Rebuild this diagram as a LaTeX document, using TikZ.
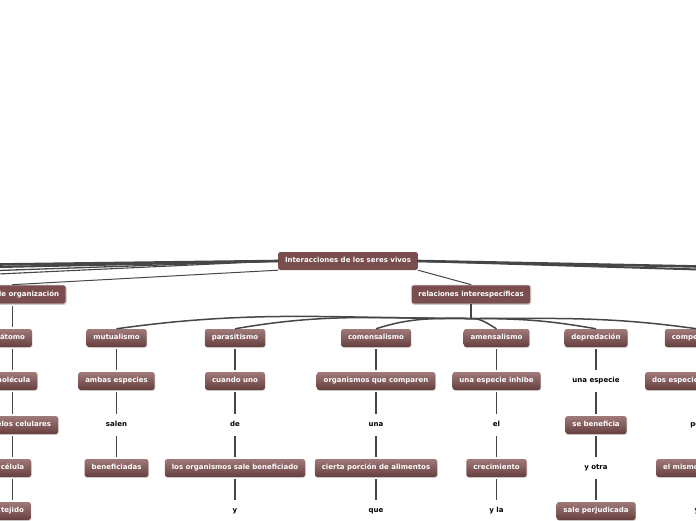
\documentclass[tikz,border=0pt]{standalone}
\usepackage{fontspec}
\setmainfont{DejaVu Sans}
\usetikzlibrary{shadows,calc}
\definecolor{brownmain}{RGB}{122,78,78}
\definecolor{browntop}{RGB}{160,122,122}
\definecolor{brownbot}{RGB}{102,62,62}
\definecolor{linegray}{RGB}{70,70,72}
\begin{document}
\begin{tikzpicture}[x=1pt,y=-1pt,
  base/.style={font=\fontsize{7}{8}\selectfont\bfseries, inner xsep=7pt, inner ysep=0pt,
    minimum height=18pt, text height=5.3pt, text depth=1.5pt},
  mainbox/.style={base, fill=brownmain, text=white, rounded corners=2.5pt},
  topicbox/.style={mainbox, draw=white!85!black, line width=0.7pt, minimum height=19pt,
    drop shadow={opacity=0.35, shadow xshift=0.6pt, shadow yshift=-0.9pt}},
  subbox/.style={base, text=white, rounded corners=2.5pt, top color=browntop, bottom color=brownbot,
    drop shadow={opacity=0.3, shadow xshift=0.6pt, shadow yshift=-0.9pt}},
  plain/.style={base, text=black},
  rootlink/.style={draw=linegray, line cap=round},
  col/.style={draw=linegray, line width=1.2pt, shorten <=2pt, shorten >=2pt},
  fan/.style={draw=linegray, line width=1.5pt},
]
\useasboundingbox (0,0) rectangle (696,520);
\clip (0,0) rectangle (696,520);

% main nodes
\node[mainbox] (root) at (348,261) {Interacciones de los seres vivos};
\node[topicbox] (niv) at (12.5,294.5) {niveles de organización};
\node[topicbox] (rel) at (471,294.5) {relaciones interespecíficas};

% off-canvas branch ends
\coordinate (L1) at (-2,264.5);
\coordinate (L2) at (-2,267);
\coordinate (L3) at (-2,270.5);
\coordinate (L4) at (-2,274);
\coordinate (R1) at (698,266.5);
\coordinate (R2) at (698,269.5);
\coordinate (hub) at (471,318.5);

% column 0: niveles
\node[subbox] (a1) at (12.5,338) {átomo};
\node[subbox] (a2) at (12.5,381) {molécula};
\node[subbox] (a3) at (12.5,425) {organelos celulares};
\node[subbox] (a4) at (12.5,468) {célula};
\node[subbox] (a5) at (12.5,511) {tejido};

% column 1: mutualismo
\node[subbox] (b1) at (116.5,338) {mutualismo};
\node[subbox] (b2) at (116.5,381) {ambas especies};
\node[plain]  (b3) at (116.5,425) {salen};
\node[subbox] (b4) at (116.5,468) {beneficiadas};

% column 2: parasitismo
\node[subbox] (c1) at (235,338) {parasitismo};
\node[subbox] (c2) at (235,381) {cuando uno};
\node[plain]  (c3) at (235,425) {de};
\node[subbox] (c4) at (235,468) {los organismos sale beneficiado};
\node[plain]  (c5) at (235,511) {y};

% column 3: comensalismo
\node[subbox] (d1) at (376,338) {comensalismo};
\node[subbox] (d2) at (376,381) {organismos que comparen};
\node[plain]  (d3) at (376,425) {una};
\node[subbox] (d4) at (376,468) {cierta porción de alimentos};
\node[plain]  (d5) at (376,511) {que};

% column 4: amensalismo
\node[subbox] (e1) at (496.5,338) {amensalismo};
\node[subbox] (e2) at (496.5,381) {una especie inhibe};
\node[plain]  (e3) at (496.5,425) {el};
\node[subbox] (e4) at (496.5,468) {crecimiento};
\node[plain]  (e5) at (496.5,511) {y la};

% column 5: depredacion
\node[subbox] (f1) at (596,338) {depredación};
\node[plain]  (f2) at (596,381) {una especie};
\node[subbox] (f3) at (596,425) {se beneficia};
\node[plain]  (f4) at (596,468) {y otra};
\node[subbox] (f5) at (596,511) {sale perjudicada};

% column 6: competencia (cut off at the right)
\node[subbox] (g1) at (697,338) {competencia};
\node[subbox] (g2) at (697,381) {dos especies compiten};
\node[plain]  (g3) at (697,425) {por};
\node[subbox] (g4) at (697,468) {el mismo recurso};
\node[plain]  (g5) at (697,511) {y};

% root links
\draw[rootlink, line width=2.6pt] (root.west) -- (L1);
\draw[rootlink, line width=2.1pt] (root.west) -- (L2);
\draw[rootlink, line width=1.3pt] (root.west) -- (L3);
\draw[rootlink, line width=1.1pt] (root.west) -- (L4);
\draw[rootlink, line width=2.6pt] (root.east) -- (R1);
\draw[rootlink, line width=2.0pt] (root.east) -- (R2);
\draw[rootlink, line width=1pt] (root.south west) -- (niv.north);
\draw[rootlink, line width=1pt] (root.south east) -- (rel.north);

% fan of relaciones
\draw[fan] (rel.south) -- (hub);
\draw[fan] (hub) to[out=180,in=8]  (b1.north);
\draw[fan] (hub) to[out=180,in=10] (c1.north);
\draw[fan] (hub) to[out=180,in=18] (d1.north);
\draw[fan] (hub) to[out=0,in=150]  (e1.north);
\draw[fan] (hub) to[out=0,in=170]  (f1.north);
\draw[fan] (hub) to[out=0,in=172]  (g1.north);

% column links
\draw[col] (niv.south) -- (a1.north);
\draw[col] (a1) -- (a2);
\draw[col] (a2) -- (a3);
\draw[col] (a3) -- (a4);
\draw[col] (a4) -- (a5);

\draw[col] (b1) -- (b2);
\draw[col] (b2) -- (b3);
\draw[col] (b3) -- (b4);

\draw[col] (c1) -- (c2);
\draw[col] (c2) -- (c3);
\draw[col] (c3) -- (c4);
\draw[col] (c4) -- (c5);

\draw[col] (d1) -- (d2);
\draw[col] (d2) -- (d3);
\draw[col] (d3) -- (d4);
\draw[col] (d4) -- (d5);

\draw[col] (e1) -- (e2);
\draw[col] (e2) -- (e3);
\draw[col] (e3) -- (e4);
\draw[col] (e4) -- (e5);

\draw[col] (f1) -- (f2);
\draw[col] (f2) -- (f3);
\draw[col] (f3) -- (f4);
\draw[col] (f4) -- (f5);

\draw[col] (g1) -- (g2);
\draw[col] (g2) -- (g3);
\draw[col] (g3) -- (g4);
\draw[col] (g4) -- (g5);
\end{tikzpicture}
\end{document}
